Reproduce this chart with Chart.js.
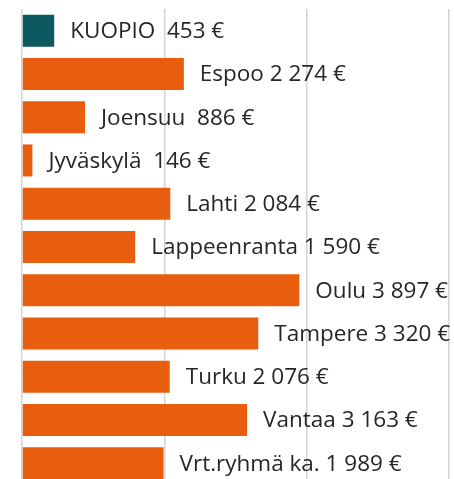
<!DOCTYPE html>
<html>
<head>
<meta charset="utf-8">
<script src="https://cdn.jsdelivr.net/npm/chart.js@4"></script>
<style>
html,body{margin:0;padding:0;background:#fff;overflow:hidden;width:454px;height:479px;}
#wrap{position:absolute;left:0;top:0;width:454px;height:485px;}
</style>
</head>
<body>
<div id="wrap"><canvas id="c"></canvas></div>
<script>
const categories = ["KUOPIO", "Espoo", "Joensuu", "Jyväskylä", "Lahti", "Lappeenranta", "Oulu", "Tampere", "Turku", "Vantaa", "Vrt.ryhmä ka."];
const values = [453, 2274, 886, 146, 2084, 1590, 3897, 3320, 2076, 3163, 1989];
const valueLabels = ["453 €", "2 274 €", "886 €", "146 €", "2 084 €", "1 590 €", "3 897 €", "3 320 €", "2 076 €", "3 163 €", "1 989 €"];
const separators = ["  ", " ", "  ", "  ", " ", " ", " ", " ", " ", " ", " "];
const xTicks = [0, 2000, 4000, 6000];

const barColors = categories.map((c, i) => i === 0 ? "#0d5962" : "#e85d0e");

const labelPlugin = {
  id: "barLabels",
  afterDatasetsDraw(chart) {
    const ctx = chart.ctx;
    const meta = chart.getDatasetMeta(0);
    ctx.save();
    ctx.font = "22.5px 'Open Sans'";
    ctx.fillStyle = "#262626";
    ctx.textBaseline = "middle";
    ctx.textAlign = "left";
    meta.data.forEach((bar, i) => {
      ctx.fillText(categories[i] + separators[i] + valueLabels[i], bar.x + 16, bar.y + 1);
    });
    ctx.restore();
  }
};

new Chart(document.getElementById("c"), {
  type: "bar",
  data: {
    labels: categories,
    datasets: [{
      data: values,
      backgroundColor: barColors,
      borderWidth: 0,
      categoryPercentage: 0.8,
      barPercentage: 0.925
    }]
  },
  options: {
    indexAxis: "y",
    responsive: true,
    maintainAspectRatio: false,
    animation: false,
    layout: { padding: { left: 22, right: 5, top: 9, bottom: 0 } },
    plugins: { legend: { display: false }, tooltip: { enabled: false } },
    scales: {
      x: {
        min: 0, max: 6000,
        afterBuildTicks(axis) { axis.ticks = xTicks.map(v => ({ value: v })); },
        ticks: { display: false },
        grid: { color: "#d4d4d4", lineWidth: 1.5, drawTicks: false },
        border: { display: false }
      },
      y: { display: false }
    }
  },
  plugins: [labelPlugin]
});
</script>
</body>
</html>
